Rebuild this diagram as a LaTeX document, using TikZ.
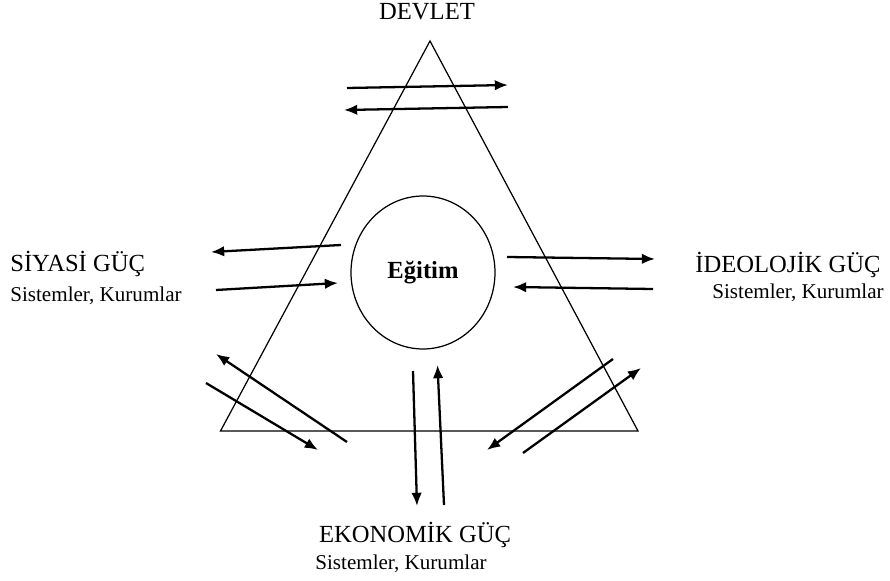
\documentclass[tikz,border=0pt]{standalone}
\usepackage{fontspec}
\setmainfont{Liberation Serif}
\usetikzlibrary{arrows.meta,shapes.geometric}
\begin{document}
\begin{tikzpicture}[x=0.02cm, y=-0.02cm,
    edge/.style={line width=0.7pt, line join=miter},
    flow/.style={line width=1.3pt, -{Latex[length=7.5pt,width=6pt]}},
    core/.style={ellipse, draw, line width=0.7pt, minimum width=2.88cm, minimum height=3.06cm, inner sep=0pt, font=\fontsize{14}{16}\selectfont\bfseries},
    powerlbl/.style={font=\fontsize{14}{16}\selectfont, inner sep=0pt},
    sublbl/.style={font=\fontsize{12}{14}\selectfont, inner sep=0pt}
]
\useasboundingbox (0,0) rectangle (890,581);

%  -- Triangle and centre --
\coordinate (apex)  at (430,41);
\coordinate (left)  at (220.5,431);
\coordinate (right) at (638,431);
\draw[edge] (apex) -- (left) -- (right) -- cycle;
\node[core] (egitim) at (423,272.5) {Eğitim};

%  -- Labels --
\node[powerlbl, anchor=base] (devlet) at (427,20) {DEVLET};
\node[powerlbl, anchor=base west] (siyasi) at (10,272) {SİYASİ GÜÇ};
\node[sublbl, anchor=base west] (siyasisub) at (10,301) {Sistemler, Kurumlar};
\node[powerlbl, anchor=base] (ideo) at (788,273) {İDEOLOJİK GÜÇ};
\node[sublbl, anchor=base] (ideosub) at (798,298) {Sistemler, Kurumlar};
\node[powerlbl, anchor=base] (eko) at (415,542) {EKONOMİK GÜÇ};
\node[sublbl, anchor=base west] (ekosub) at (315,569) {Sistemler, Kurumlar};

%  -- Arrow end points --
\coordinate (t1a) at (347,88);   \coordinate (t1b) at (508,85);
\coordinate (t2a) at (508,107);  \coordinate (t2b) at (344,110);
\coordinate (l1a) at (341,245);  \coordinate (l1b) at (211,252);
\coordinate (l2a) at (216,290);  \coordinate (l2b) at (338,283);
\coordinate (r1a) at (507,257);  \coordinate (r1b) at (655,259);
\coordinate (r2a) at (653,289);  \coordinate (r2b) at (513,287);
\coordinate (s1a) at (347,442);  \coordinate (s1b) at (216,354);
\coordinate (s2a) at (206,383);  \coordinate (s2b) at (318,450);
\coordinate (b1a) at (413,371);  \coordinate (b1b) at (417,506);
\coordinate (b2a) at (444,505);  \coordinate (b2b) at (437.5,365);
\coordinate (e1a) at (613,359);  \coordinate (e1b) at (487,450);
\coordinate (e2a) at (523,453);  \coordinate (e2b) at (641,368);

%  -- Exchange arrows --
\foreach \p in {t1,t2,l1,l2,r1,r2,s1,s2,b1,b2,e1,e2}
  \draw[flow] (\p a) -- (\p b);

\end{tikzpicture}
\end{document}
